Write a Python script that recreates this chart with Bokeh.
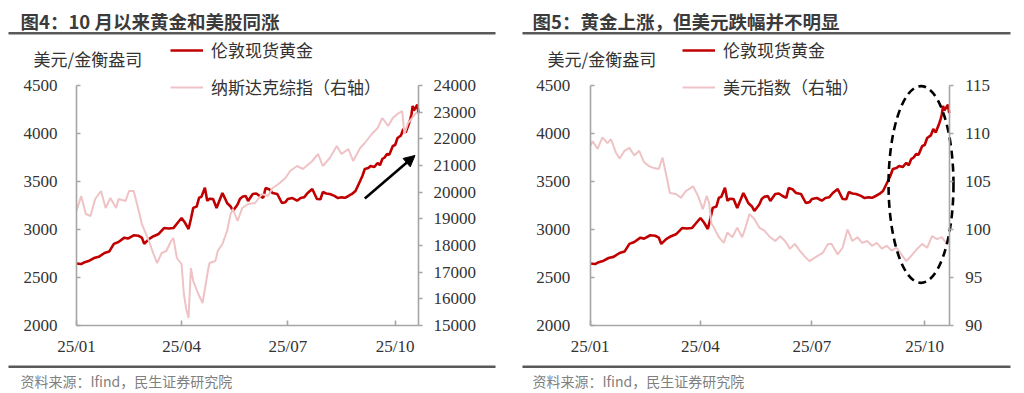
import pandas as pd
from bokeh.plotting import figure
from bokeh.models import (Range1d, LinearAxis, DatetimeAxis, FixedTicker, DatetimeTickFormatter,
                          Legend, LegendItem, Label, BoxAnnotation, Arrow, NormalHead)
from bokeh.layouts import row
from bokeh.embed import file_html
from bokeh.resources import INLINE

# ---------------- data ----------------
gold_dates = ["2025-01-01", "2025-01-05", "2025-01-08", "2025-01-12", "2025-01-16", "2025-01-20",
              "2025-01-25", "2025-01-29", "2025-02-02", "2025-02-06", "2025-02-11", "2025-02-14",
              "2025-02-19", "2025-02-23", "2025-02-26", "2025-02-28", "2025-03-04", "2025-03-08",
              "2025-03-12", "2025-03-17", "2025-03-21", "2025-03-25", "2025-03-28", "2025-04-01",
              "2025-04-04", "2025-04-07", "2025-04-09", "2025-04-11", "2025-04-14", "2025-04-16",
              "2025-04-18", "2025-04-21", "2025-04-23", "2025-04-25", "2025-04-28", "2025-05-01",
              "2025-05-06", "2025-05-08", "2025-05-10", "2025-05-13", "2025-05-15", "2025-05-19",
              "2025-05-21", "2025-05-23", "2025-05-26", "2025-05-28", "2025-06-01", "2025-06-04",
              "2025-06-07", "2025-06-10", "2025-06-12", "2025-06-15", "2025-06-18", "2025-06-22",
              "2025-06-26", "2025-06-29", "2025-07-01", "2025-07-05", "2025-07-09", "2025-07-12",
              "2025-07-15", "2025-07-18", "2025-07-22", "2025-07-26", "2025-07-29", "2025-07-31",
              "2025-08-03", "2025-08-06", "2025-08-10", "2025-08-13", "2025-08-16", "2025-08-19",
              "2025-08-22", "2025-08-25", "2025-08-28", "2025-09-01", "2025-09-03", "2025-09-05",
              "2025-09-08", "2025-09-10", "2025-09-13", "2025-09-16", "2025-09-18", "2025-09-20",
              "2025-09-22", "2025-09-24", "2025-09-26", "2025-09-29", "2025-10-01", "2025-10-03",
              "2025-10-06", "2025-10-08", "2025-10-10", "2025-10-13", "2025-10-14", "2025-10-15",
              "2025-10-16", "2025-10-17", "2025-10-20", "2025-10-21"]
gold_vals = [2645, 2640, 2660, 2675, 2703, 2715,
             2755, 2770, 2850, 2870, 2915, 2905,
             2940, 2935, 2915, 2850, 2900, 2930,
             2950, 3015, 3010, 3015, 3060, 3120,
             3070, 3005, 3110, 3225, 3240, 3330,
             3340, 3435, 3300, 3320, 3318, 3224,
             3380, 3330, 3276, 3240, 3193, 3260,
             3318, 3340, 3349, 3297, 3370, 3375,
             3349, 3330, 3432, 3420, 3380, 3370,
             3276, 3285, 3318, 3328, 3300, 3328,
             3335, 3380, 3422, 3318, 3315, 3390,
             3375, 3370, 3350, 3328, 3335, 3330,
             3349, 3370, 3401, 3505, 3560, 3630,
             3640, 3661, 3650, 3693, 3670, 3734,
             3750, 3786, 3780, 3870, 3880, 3953,
             3980, 4047, 4010, 4110, 4150, 4200,
             4287, 4240, 4300, 4213]

nasdaq_dates = ["2025-01-01", "2025-01-05", "2025-01-09", "2025-01-13", "2025-01-17", "2025-01-22",
                "2025-01-26", "2025-01-30", "2025-02-04", "2025-02-06", "2025-02-12", "2025-02-15",
                "2025-02-19", "2025-02-24", "2025-02-26", "2025-03-04", "2025-03-08", "2025-03-11",
                "2025-03-15", "2025-03-19", "2025-03-23", "2025-03-25", "2025-03-28", "2025-04-01",
                "2025-04-03", "2025-04-05", "2025-04-07", "2025-04-09", "2025-04-11", "2025-04-15",
                "2025-04-19", "2025-04-24", "2025-04-25", "2025-04-30", "2025-05-02", "2025-05-06",
                "2025-05-10", "2025-05-13", "2025-05-15", "2025-05-19", "2025-05-23", "2025-05-28",
                "2025-06-03", "2025-06-09", "2025-06-14", "2025-06-18", "2025-06-23", "2025-06-29",
                "2025-07-03", "2025-07-09", "2025-07-14", "2025-07-20", "2025-07-22", "2025-07-27",
                "2025-07-31", "2025-08-06", "2025-08-12", "2025-08-16", "2025-08-22", "2025-08-26",
                "2025-09-01", "2025-09-05", "2025-09-11", "2025-09-16", "2025-09-20", "2025-09-25",
                "2025-09-29", "2025-10-03", "2025-10-07", "2025-10-09", "2025-10-12", "2025-10-15",
                "2025-10-18", "2025-10-20"]
nasdaq_vals = [19300, 19856, 19181, 19106, 19744, 20044,
               19406, 19781, 19406, 19744, 19669, 20044,
               20044, 19181, 18806, 18169, 17681, 17344,
               17719, 17794, 18169, 18281, 17531, 17306,
               16181, 15619, 15281, 17150, 16669, 16219,
               15844, 17156, 17344, 17419, 17794, 18056,
               18544, 19181, 19369, 18919, 19406, 19556,
               19594, 19931, 19856, 20156, 20306, 20531,
               20794, 20981, 20869, 21094, 21169, 21431,
               20981, 21281, 21731, 21431, 21619, 21169,
               21656, 21844, 22181, 22406, 22781, 22481,
               22781, 22931, 23044, 22181, 22594, 22744,
               22931, 23000]

dxy_dates = ["2025-01-01", "2025-01-03", "2025-01-07", "2025-01-11", "2025-01-15", "2025-01-18",
             "2025-01-22", "2025-01-25", "2025-01-29", "2025-02-02", "2025-02-06", "2025-02-10",
             "2025-02-14", "2025-02-18", "2025-02-22", "2025-02-26", "2025-03-01", "2025-03-05",
             "2025-03-07", "2025-03-12", "2025-03-16", "2025-03-20", "2025-03-26", "2025-03-30",
             "2025-04-03", "2025-04-06", "2025-04-08", "2025-04-10", "2025-04-12", "2025-04-16",
             "2025-04-20", "2025-04-23", "2025-04-27", "2025-05-01", "2025-05-05", "2025-05-07",
             "2025-05-11", "2025-05-15", "2025-05-19", "2025-05-23", "2025-05-27", "2025-06-01",
             "2025-06-05", "2025-06-09", "2025-06-13", "2025-06-17", "2025-06-21", "2025-06-25",
             "2025-06-29", "2025-07-05", "2025-07-10", "2025-07-14", "2025-07-17", "2025-07-22",
             "2025-07-26", "2025-07-30", "2025-08-03", "2025-08-07", "2025-08-11", "2025-08-15",
             "2025-08-19", "2025-08-23", "2025-08-27", "2025-08-31", "2025-09-04", "2025-09-08",
             "2025-09-12", "2025-09-16", "2025-09-21", "2025-09-25", "2025-09-29", "2025-10-03",
             "2025-10-07", "2025-10-11", "2025-10-15", "2025-10-19", "2025-10-21"]
dxy_vals = [108.7, 109.2, 108.4, 109.6, 109.0, 109.4,
            108.0, 107.4, 108.2, 108.5, 107.7, 108.2,
            107.0, 106.6, 106.4, 106.3, 107.5, 105.1,
            103.8, 103.7, 103.3, 104.0, 104.5, 103.5,
            102.1, 103.5, 102.8, 100.6, 100.2, 99.2,
            98.6, 99.7, 99.2, 100.2, 99.2, 99.9,
            101.6, 101.1, 100.2, 99.9, 99.3, 98.8,
            99.3, 98.8, 98.0, 98.5, 97.8, 97.2,
            96.7, 97.2, 97.6, 98.5, 98.5, 97.4,
            98.1, 100.0, 98.8, 99.2, 98.6, 98.8,
            98.3, 98.6, 98.0, 98.3, 97.8, 98.1,
            97.4, 96.7, 97.4, 98.0, 98.5, 98.1,
            99.3, 99.0, 99.2, 98.5, 98.8]

x_start, x_end = "2025-01-01", "2025-10-21"
x_tick_dates = ["2025-01-01", "2025-04-01", "2025-07-01", "2025-10-01"]
x_tick_labels = ["25/01", "25/04", "25/07", "25/10"]
gold_range = (2000, 4500)
gold_ticks = [2000, 2500, 3000, 3500, 4000, 4500]
nasdaq_range = (15000, 24000)
nasdaq_ticks = [15000, 16000, 17000, 18000, 19000, 20000, 21000, 22000, 23000, 24000]
dxy_range = (90, 115)
dxy_ticks = [90, 95, 100, 105, 110, 115]

titles = ["图4：10 月以来黄金和美股同涨", "图5：黄金上涨，但美元跌幅并不明显"]
unit_label = "美元/金衡盎司"
gold_name = "伦敦现货黄金"
nasdaq_name = "纳斯达克综指（右轴）"
dxy_name = "美元指数（右轴）"
source_text = "资料来源：Ifind，民生证券研究院"

# annotation anchors (data space)
arrow_from = ("2025-09-05", 3323)
arrow_to = ("2025-10-18", 3771)
ellipse_center = ("2025-09-28", 3469)
ellipse_w_days, ellipse_h = 53, 2052

# ---------------- style / layout ----------------
RED = "#c00000"
PINK = "#efc3c5"
AXIS = "#a6a6a6"
TXT = "#333333"
RULE = "#595959"
CJK = "Noto Sans CJK SC"
SERIF = "Liberation Serif"
H = 393            # figure height (px)
PLOT_TOP, PLOT_BOTTOM = 85, 325   # data area in canvas pixels
DAY = 86400000.0


def ms(d):
    return pd.Timestamp(d).value / 1e6


def style_axis(ax, tick_in, tick_out, standoff):
    ax.axis_line_color = AXIS
    ax.axis_line_width = 1.6
    ax.major_tick_line_color = AXIS
    ax.major_tick_line_width = 1.6
    ax.minor_tick_line_color = None
    ax.major_tick_in = tick_in
    ax.major_tick_out = tick_out
    ax.major_label_standoff = standoff
    ax.major_label_text_font = SERIF
    ax.major_label_text_font_size = "17px"
    ax.major_label_text_color = TXT


def expand(lo, hi, px_lo, px_hi, total_px):
    """range over canvas 0..total_px so that lo sits at px_lo and hi at px_hi."""
    k = (hi - lo) / (px_hi - px_lo)
    return lo - px_lo * k, hi + (total_px - px_hi) * k


def make_panel(width, left_px, right_px, title, right_range, right_ticks, right_name,
               right_dates, right_vals, lstand, rstand, rule_l, rule_r, text_x, legend_x,
               unit_x):
    x0, x1 = ms(x_start), ms(x_end)
    xr = expand(x0, x1, left_px, right_px, width)
    yb, yt = H - PLOT_BOTTOM, H - PLOT_TOP
    yr = expand(gold_range[0], gold_range[1], yb, yt, H)
    rr_ = expand(right_range[0], right_range[1], yb, yt, H)

    p = figure(width=width, height=H, x_range=Range1d(*xr), y_range=Range1d(*yr),
               x_axis_location=None, y_axis_location=None,
               output_backend="svg", toolbar_location=None,
               min_border_left=0, min_border_right=0, min_border_top=0, min_border_bottom=0)
    p.outline_line_color = None
    p.grid.visible = False
    p.background_fill_color = "white"
    p.border_fill_color = "white"
    p.extra_y_ranges = {"r": Range1d(*rr_)}

    fmt = "%y/%m"
    xa = DatetimeAxis(fixed_location=gold_range[0], bounds=(x0, x1),
                      ticker=FixedTicker(ticks=[ms(d) for d in x_tick_dates]),
                      formatter=DatetimeTickFormatter(microseconds=fmt, milliseconds=fmt,
                                                      seconds=fmt, minsec=fmt, minutes=fmt,
                                                      hourmin=fmt, hours=fmt, days=fmt,
                                                      months=fmt, years=fmt))
    style_axis(xa, 5, 0, 11)
    xa.major_label_overrides = {int(ms(d)): lab for d, lab in zip(x_tick_dates, x_tick_labels)}
    p.add_layout(xa, "below")

    ya = LinearAxis(fixed_location=x0, bounds=gold_range, ticker=FixedTicker(ticks=gold_ticks))
    style_axis(ya, 4, 0, lstand)
    p.add_layout(ya, "left")

    rax = LinearAxis(y_range_name="r", fixed_location=x1, bounds=right_range,
                     ticker=FixedTicker(ticks=right_ticks))
    style_axis(rax, 0, 4, rstand)
    p.add_layout(rax, "right")

    gx = pd.to_datetime(gold_dates)
    rx = pd.to_datetime(right_dates)
    gr = p.line(gx, gold_vals, line_color=RED, line_width=2.6)
    rr = p.line(rx, right_vals, line_color=PINK, line_width=2.0, y_range_name="r")

    legend = Legend(items=[LegendItem(label=gold_name, renderers=[gr]),
                           LegendItem(label=right_name, renderers=[rr])],
                    location=(legend_x, H - 99), padding=0, margin=0, spacing=12,
                    glyph_width=33, glyph_height=20, label_height=20, label_standoff=8,
                    border_line_alpha=0, background_fill_alpha=0,
                    label_text_font=CJK, label_text_font_size="17px", label_text_color=TXT)
    p.add_layout(legend)

    p.add_layout(Label(x=text_x, y=H - 20, x_units="screen", y_units="screen", text=title,
                       text_font=CJK, text_font_style="bold", text_font_size="18.5px",
                       text_color="#3b3b3b", text_baseline="middle"))
    p.add_layout(Label(x=unit_x, y=H - 58, x_units="screen", y_units="screen", text=unit_label,
                       text_font=CJK, text_font_size="17px", text_color=TXT,
                       text_baseline="middle"))
    p.add_layout(Label(x=text_x, y=H - 380, x_units="screen", y_units="screen",
                       text=source_text, text_font=CJK, text_font_size="14px",
                       text_color="#7f7f7f", text_baseline="middle"))
    for top, bot in [(H - 31.5, H - 34), (H - 365, H - 367.5)]:
        p.add_layout(BoxAnnotation(left=rule_l, right=rule_r, top=top, bottom=bot,
                                   left_units="screen", right_units="screen",
                                   top_units="screen", bottom_units="screen",
                                   fill_color=RULE, fill_alpha=1, line_color=None))
    return p


p1 = make_panel(515, 76, 418, titles[0], nasdaq_range, nasdaq_ticks, nasdaq_name,
                nasdaq_dates, nasdaq_vals, 19, 11, 8, 495, 20, 170, 33)
p1.add_layout(Arrow(end=NormalHead(size=11, fill_color="black", line_color="black"),
                    x_start=ms(arrow_from[0]), y_start=arrow_from[1],
                    x_end=ms(arrow_to[0]), y_end=arrow_to[1],
                    line_color="black", line_width=2.6))

p2 = make_panel(501, 74.7, 433.7, titles[1], dxy_range, dxy_ticks, dxy_name,
                dxy_dates, dxy_vals, 20, 12, 7, 495, 17, 167, 32)
p2.ellipse(x=[pd.Timestamp(ellipse_center[0])], y=[ellipse_center[1]],
           width=ellipse_w_days * DAY, height=ellipse_h,
           fill_alpha=0, line_color="black", line_width=2.6, line_dash="8 5")

layout = row(p1, p2)
open("out.html", "w").write(file_html(layout, INLINE))
